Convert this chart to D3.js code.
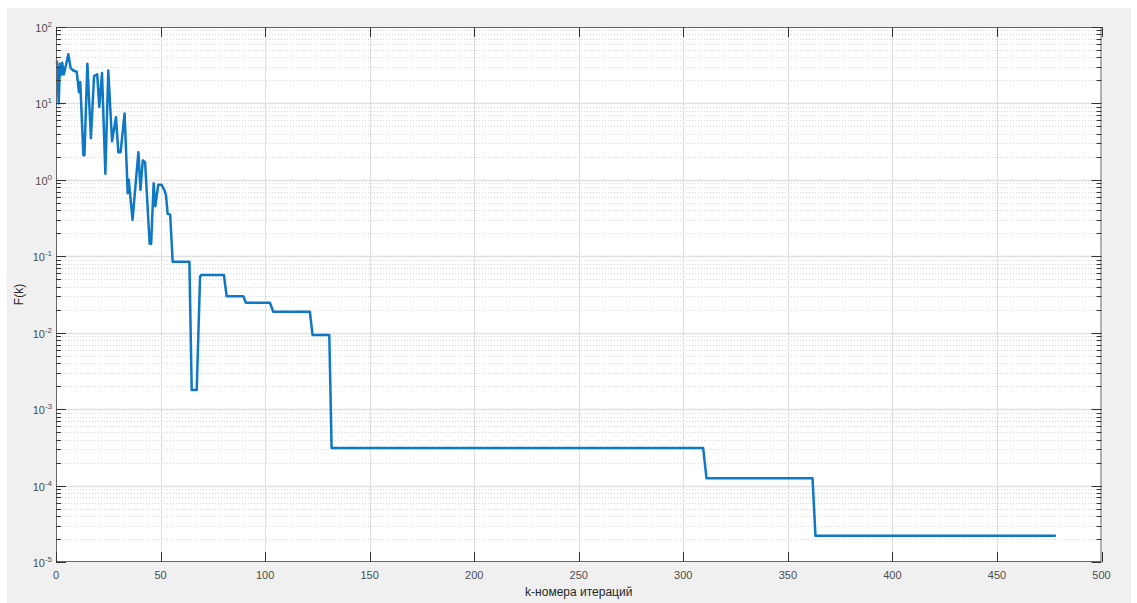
<!DOCTYPE html>
<html>
<head>
<meta charset="utf-8">
<script src="https://cdn.jsdelivr.net/npm/d3@7"></script>
<style>
  html, body { margin: 0; padding: 0; background: #ffffff; }
  svg { display: block; }
  text { font-family: "Liberation Sans", Arial, Helvetica, sans-serif; }
</style>
</head>
<body>
<svg id="chart" width="1137" height="603"></svg>
<script>
// ---- data ----
const iterK = [0.5, 1.3, 1.9, 2.5, 3.0, 3.7, 4.8, 5.9, 7.0, 8.3, 9.9, 11.0, 11.6, 13.1, 13.6,
  15.0, 16.7, 18.2, 19.7, 20.7, 22.0, 23.6, 25.0, 26.8, 28.7, 29.8, 30.9, 32.8, 34.3, 34.8,
  35.4, 36.6, 39.4, 40.4, 41.5, 42.6, 44.8, 45.5, 46.7, 47.5, 48.9, 50.5, 51.8, 52.6, 53.4,
  54.6, 55.8, 63.8, 64.9, 67.3, 68.9, 69.5, 80.3, 81.6, 89.6, 90.8, 102.3, 103.9, 121.4,
  122.7, 130.7, 131.8, 309.5, 311.1, 361.8, 363.2, 477.7];
const valueF = [35, 10, 33, 23.6, 34, 24, 32, 44, 29, 27, 26, 14, 19, 2.1, 2.1,
  33, 3.5, 22.8, 24, 9, 25, 1.2, 27, 3.2, 6.6, 2.3, 2.3, 7.4, 0.67, 1.0,
  0.67, 0.3, 2.3, 0.74, 1.8, 1.7, 0.146, 0.146, 0.9, 0.45, 0.86, 0.86, 0.74, 0.63, 0.36,
  0.35, 0.085, 0.085, 0.00178, 0.00178, 0.054, 0.057, 0.057, 0.030, 0.030, 0.0247, 0.0247, 0.0188, 0.0188,
  0.0093, 0.0093, 0.00031, 0.00031, 0.0001245, 0.0001245, 0.0000221, 0.0000221];
const xTicks = [0, 50, 100, 150, 200, 250, 300, 350, 400, 450, 500];
const yExponents = [2, 1, 0, -1, -2, -3, -4, -5];
const xLabel = "k-номера итераций";
const yLabel = "F(k)";

// ---- layout ----
const W = 1137, H = 603;
const plot = { left: 56, top: 27, right: 1101.5, bottom: 562 };
const svg = d3.select("#chart");

svg.append("rect").attr("x", 0).attr("y", 0).attr("width", W).attr("height", H).attr("fill", "#ffffff");
svg.append("rect").attr("x", 7).attr("y", 8).attr("width", 1124).attr("height", 595).attr("fill", "#f0f0f0");
svg.append("rect").attr("x", plot.left).attr("y", plot.top)
  .attr("width", plot.right - plot.left).attr("height", plot.bottom - plot.top).attr("fill", "#ffffff");

const x = d3.scaleLinear().domain([0, 500]).range([plot.left, plot.right]);
const y = d3.scaleLog().domain([1e-5, 1e2]).range([plot.bottom, plot.top]);

const minorVals = [];
for (let e = -5; e < 2; e++) for (let m = 2; m <= 9; m++) minorVals.push(m * Math.pow(10, e));
const majorVals = yExponents.map(e => Math.pow(10, e));

const grid = svg.append("g");
grid.selectAll(".ymin").data(minorVals).enter().append("line")
  .attr("x1", plot.left).attr("x2", plot.right)
  .attr("y1", d => Math.round(y(d)) + 0.5).attr("y2", d => Math.round(y(d)) + 0.5)
  .attr("stroke", "#d6d6d6").attr("stroke-width", 1).attr("stroke-dasharray", "1,2");
grid.selectAll(".ymaj").data(majorVals.slice(1, -1)).enter().append("line")
  .attr("x1", plot.left).attr("x2", plot.right)
  .attr("y1", d => Math.round(y(d)) + 0.5).attr("y2", d => Math.round(y(d)) + 0.5)
  .attr("stroke", "#e0e0e0").attr("stroke-width", 1.5);
grid.selectAll(".xmaj").data(xTicks.slice(1, -1)).enter().append("line")
  .attr("y1", plot.top).attr("y2", plot.bottom)
  .attr("x1", d => Math.round(x(d)) + 0.5).attr("x2", d => Math.round(x(d)) + 0.5)
  .attr("stroke", "#dedede").attr("stroke-width", 1);

const pts = iterK.map((k, i) => [k, valueF[i]]);
svg.append("path").datum(pts)
  .attr("d", d3.line().x(d => x(d[0])).y(d => y(d[1])))
  .attr("fill", "none").attr("stroke", "#0F78C4").attr("stroke-width", 2.5)
  .attr("stroke-linejoin", "round").attr("stroke-linecap", "round");

const axisColor = "#666666";
svg.append("rect").attr("x", plot.left + 0.5).attr("y", plot.top + 0.5)
  .attr("width", plot.right - plot.left - 1).attr("height", plot.bottom - plot.top - 1)
  .attr("fill", "none").attr("stroke", axisColor).attr("stroke-width", 1);

const ticks = svg.append("g").attr("stroke", "#333").attr("stroke-width", 1);
xTicks.forEach(t => {
  const px = Math.round(x(t)) + 0.5;
  ticks.append("line").attr("x1", px).attr("x2", px).attr("y1", plot.bottom).attr("y2", plot.bottom - 10);
  ticks.append("line").attr("x1", px).attr("x2", px).attr("y1", plot.top).attr("y2", plot.top + 10);
});
majorVals.forEach(v => {
  const py = Math.round(y(v)) + 0.5;
  ticks.append("line").attr("x1", plot.left).attr("x2", plot.left + 10).attr("y1", py).attr("y2", py);
  ticks.append("line").attr("x1", plot.right).attr("x2", plot.right - 10).attr("y1", py).attr("y2", py);
});
minorVals.forEach(v => {
  const py = Math.round(y(v)) + 0.5;
  ticks.append("line").attr("x1", plot.left).attr("x2", plot.left + 5).attr("y1", py).attr("y2", py);
  ticks.append("line").attr("x1", plot.right).attr("x2", plot.right - 5).attr("y1", py).attr("y2", py);
});

const labelColor = "#4d4d4d";
svg.append("g").selectAll("text").data(xTicks).enter().append("text")
  .attr("x", d => x(d)).attr("y", plot.bottom + 17)
  .attr("text-anchor", "middle").attr("font-size", 11).attr("fill", labelColor)
  .text(d => d);

yExponents.forEach(e => {
  const py = y(Math.pow(10, e));
  const t = svg.append("text").attr("x", plot.left - 4).attr("y", py + 5)
    .attr("text-anchor", "end").attr("font-size", 11).attr("fill", labelColor);
  t.append("tspan").text("10");
  t.append("tspan").attr("dy", -5).attr("font-size", 8).text(String(e));
});

svg.append("text").attr("x", (plot.left + plot.right) / 2).attr("y", 596)
  .attr("text-anchor", "middle").attr("font-size", 12).attr("fill", "#262626").text(xLabel);
svg.append("text").attr("transform", `translate(23,${(plot.top + plot.bottom) / 2}) rotate(-90)`)
  .attr("text-anchor", "middle").attr("font-size", 12).attr("fill", "#262626").text(yLabel);
</script>
</body>
</html>
